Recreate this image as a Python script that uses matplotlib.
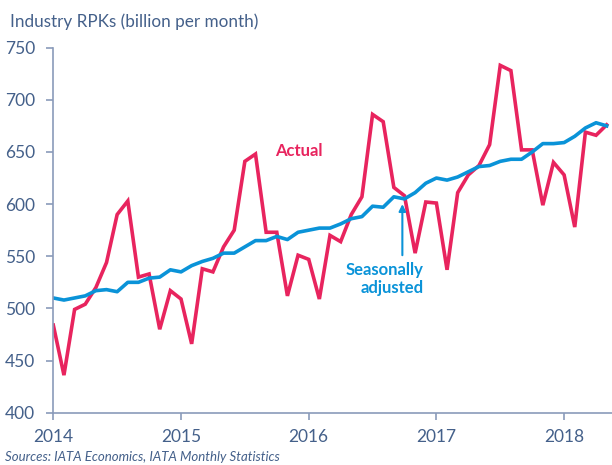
import matplotlib.pyplot as plt

# monthly, Jan 2014 .. May 2018
actual = [484, 436, 499, 504, 520, 544, 590, 603, 530, 533, 480, 517,
          509, 466, 538, 535, 559, 575, 641, 648, 573, 573, 512, 551,
          547, 509, 570, 564, 590, 607, 686, 679, 616, 608, 553, 602,
          601, 537, 611, 628, 637, 657, 733, 728, 652, 652, 599, 640,
          628, 578, 669, 666, 676]
seas_adj = [510, 508, 510, 512, 517, 518, 516, 525, 525, 529, 530, 537,
            535, 541, 545, 548, 553, 553, 559, 565, 565, 569, 566, 573,
            575, 577, 577, 581, 586, 588, 598, 597, 607, 605, 611, 620,
            625, 623, 626, 631, 636, 637, 641, 643, 643, 650, 658, 658,
            659, 665, 673, 678, 675]
years = ['2014', '2015', '2016', '2017', '2018']

pink = '#E8245E'
blue = '#0A93D8'
axcol = '#8A9BBA'
txtcol = '#44608A'

plt.rcParams['font.family'] = ['Lato', 'DejaVu Sans']

fig = plt.figure(figsize=(6.12, 4.65), dpi=100)
ax = fig.add_axes([0.0871, 0.1125, 0.9129, 0.785])

months = list(range(len(actual)))
ax.plot(months, actual, color=pink, lw=2.6, solid_joinstyle='miter')
ax.plot(months, seas_adj, color=blue, lw=2.6)

ax.set_xlim(0, 52.5)
ax.set_ylim(400, 750)
ax.set_yticks(range(400, 751, 50))
ax.set_xticks([0, 12, 24, 36, 48])
ax.set_xticklabels(years)

for s in ['top', 'right']:
    ax.spines[s].set_visible(False)
for s in ['left', 'bottom']:
    ax.spines[s].set_color(axcol)
    ax.spines[s].set_linewidth(1.2)
ax.tick_params(axis='both', colors=axcol, length=5, width=1.2, labelsize=12.5,
               labelcolor=txtcol)
ax.tick_params(axis='y', pad=8)
ax.tick_params(axis='x', pad=7)

ax.text(20.8, 651, 'Actual', color=pink, fontsize=12, fontweight='bold',
        va='center', ha='left')
ax.annotate('', xy=(32.8, 600), xytext=(32.8, 551),
            arrowprops=dict(arrowstyle='-|>', color=blue, lw=1.5,
                            mutation_scale=10, shrinkA=0, shrinkB=0))
ax.text(34.8, 528, 'Seasonally\nadjusted', color=blue, fontsize=12,
        fontweight='bold', ha='right', va='center', linespacing=1.2)

fig.text(0.016, 1 - 22 / 465, 'Industry RPKs (billion per month)', color=txtcol,
         fontsize=12.3, va='center', ha='left')
fig.text(0.008, 1 - 457 / 465, 'Sources: IATA Economics, IATA Monthly Statistics',
         color=txtcol, fontsize=9.5, style='italic', va='center', ha='left')

fig.savefig('out.png', dpi=100)
